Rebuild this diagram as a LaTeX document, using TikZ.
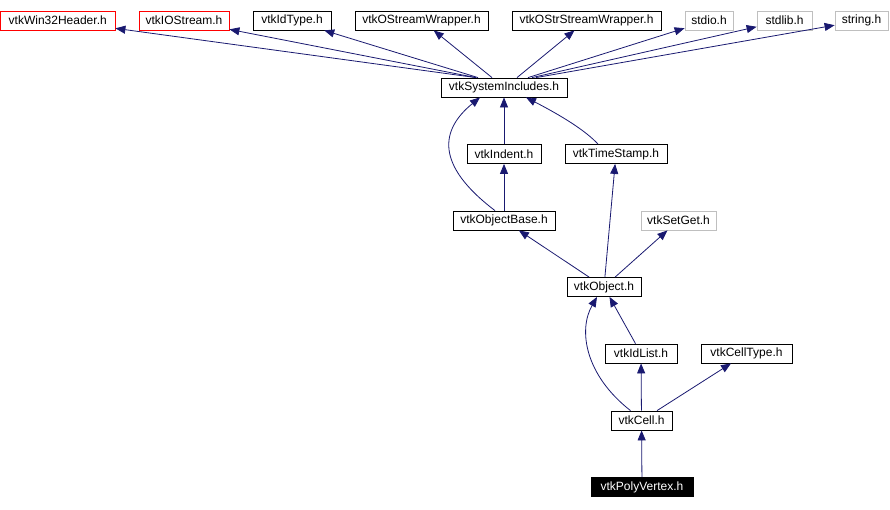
\documentclass[tikz,border=0pt]{standalone}
\usepackage{fontspec}
\setmainfont{Liberation Sans}
\usepackage{tikz}
\usetikzlibrary{arrows,arrows.meta,positioning,calc}
\definecolor{edgeblue}{HTML}{191970}
\definecolor{extgray}{HTML}{BFBFBF}

\begin{document}
\begin{tikzpicture}[x=1pt, y=-1pt, >={Triangle[length=10pt,width=8pt]},
    hdr/.style={draw, line width=0.8pt, inner sep=0pt, minimum height=19pt, font=\fontsize{12}{14}\selectfont},
    win/.style={hdr, draw=red},
    ext/.style={hdr, draw=extgray},
    dep/.style={<-, edgeblue, line width=0.8pt}]
        \useasboundingbox (0,0) rectangle (890,509);
        % Top row
        \node[win, minimum width=114.5pt] (win32) at (57.75,20.5) {vtkWin32Header.h};
        \node[win, minimum width=90pt] (iostream) at (184,20.5) {vtkIOStream.h};
        \node[hdr, minimum width=78pt] (idtype) at (292,20.5) {vtkIdType.h};
        \node[hdr, minimum width=133pt] (ostream) at (421.5,20.5) {vtkOStreamWrapper.h};
        \node[hdr, minimum width=149pt] (ostrstream) at (586.5,20.5) {vtkOStrStreamWrapper.h};
        \node[ext, minimum width=48pt] (stdio) at (709,20.5) {stdio.h};
        \node[ext, minimum width=55pt] (stdlib) at (784.5,20.5) {stdlib.h};
        \node[ext, minimum width=53pt] (string) at (861.5,20.5) {string.h};

        % Middle
        \node[hdr, minimum width=126pt] (sysinc) at (504,87.5) {vtkSystemIncludes.h};
        \node[hdr, minimum width=74pt] (indent) at (504,154) {vtkIndent.h};
        \node[hdr, minimum width=102pt] (timestamp) at (616,154) {vtkTimeStamp.h};
        \node[hdr, minimum width=102pt] (objbase) at (504,220.5) {vtkObjectBase.h};
        \node[ext, minimum width=75pt] (setget) at (678.5,220.5) {vtkSetGet.h};
        \node[hdr, minimum width=74pt] (object) at (604,287) {vtkObject.h};
        \node[hdr, minimum width=72pt] (idlist) at (641,353.5) {vtkIdList.h};
        \node[hdr, minimum width=91pt] (celltype) at (746.5,353.5) {vtkCellType.h};
        \node[hdr, minimum width=61pt] (cell) at (641.5,420.5) {vtkCell.h};
        \node[hdr, fill=black, text=white, minimum width=102pt] (polyvertex) at (642,487) {vtkPolyVertex.h};

        % Edges
        \draw[dep] (win32) -- ([xshift=-28pt]sysinc.north);
        \draw[dep] (iostream) -- ([xshift=-28pt]sysinc.north);
        \draw[dep] (idtype) -- ([xshift=-26pt]sysinc.north);
        \draw[dep] (ostream) -- ([xshift=-12pt]sysinc.north);
        \draw[dep] (ostrstream) -- ([xshift=13pt]sysinc.north);
        \draw[dep] (stdio) -- ([xshift=24pt]sysinc.north);
        \draw[dep] (stdlib) -- ([xshift=28pt]sysinc.north);
        \draw[dep] (string) -- ([xshift=32pt]sysinc.north);

        \draw[dep] (sysinc) -- (indent);
        \draw[dep] ([xshift=22pt]sysinc.south) .. controls (560,115) and (585,130) .. ([xshift=-18pt]timestamp.north);
        \draw[dep] ([xshift=-24pt]sysinc.south) .. controls (440,130) and (435,165) .. ([xshift=-9pt]objbase.north);
        \draw[dep] (indent) -- (objbase);

        \draw[dep] (objbase) -- (object);
        \draw[dep] (timestamp) -- (object);
        \draw[dep] (setget) -- (object);

        \draw[dep] ([xshift=-7pt]object.south) .. controls (578,330) and (585,375) .. ([xshift=-11pt]cell.north);
        \draw[dep] (object) -- (idlist);
        \draw[dep] (idlist) -- (cell);
        \draw[dep] (celltype) -- (cell);
        \draw[dep] (cell) -- (polyvertex);
    \end{tikzpicture}
\end{document}
